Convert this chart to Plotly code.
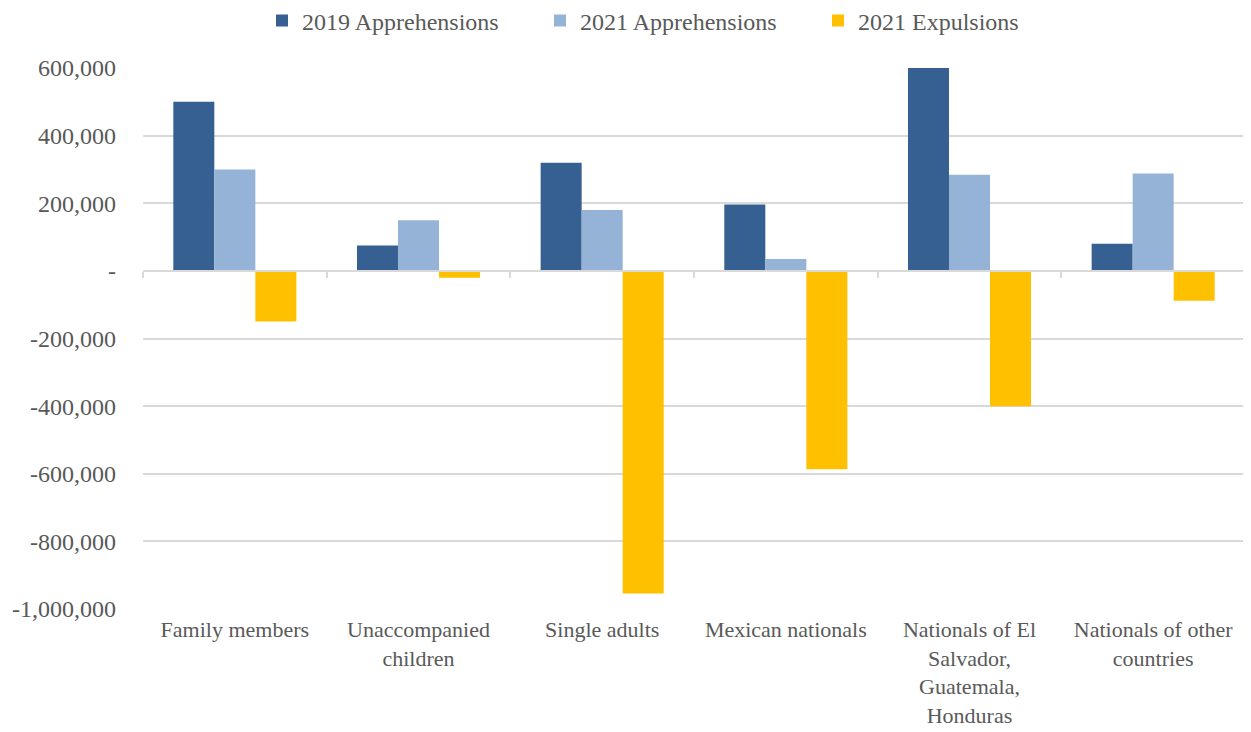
import plotly.graph_objects as go

categories = ["Family members", "Unaccompanied<br>children", "Single adults", "Mexican nationals",
              "Nationals of El<br>Salvador,<br>Guatemala,<br>Honduras", "Nationals of other<br>countries"]
apprehensions_2019 = [500000, 75000, 320000, 196000, 600000, 80000]
apprehensions_2021 = [300000, 150000, 180000, 35000, 284000, 288000]
expulsions_2021 = [-150000, -20000, -954000, -587000, -400000, -88000]
series_names = ["2019 Apprehensions", "2021 Apprehensions", "2021 Expulsions"]
colors = ["#376092", "#95B3D7", "#FFC000"]
y_ticks = [-1000000, -800000, -600000, -400000, -200000, 0, 200000, 400000, 600000]
y_ticktext = ["-" if v == 0 else f"{v:,}" for v in y_ticks]

FONT = "Liberation Serif, Times New Roman, serif"
TXT = "#595959"
FS = 24

W, H = 1243, 724  # page body has an 8px margin

fig = go.Figure()
for name, vals, c in zip(series_names, [apprehensions_2019, apprehensions_2021, expulsions_2021], colors):
    fig.add_trace(go.Bar(x=categories, y=vals, name=name, marker=dict(color=c, line=dict(width=0))))

# invisible trace carrying the category tick marks along the zero line
fig.add_trace(go.Scatter(x=categories, y=[None] * len(categories), xaxis="x2", showlegend=False,
                         hoverinfo="skip", mode="markers"))

ymin, ymax = -1000000, 600000
zero_frac = (0 - ymin) / (ymax - ymin)

fig.update_layout(
    width=W, height=H,
    margin=dict(l=135, r=6, t=60, b=123, autoexpand=False),
    paper_bgcolor="white", plot_bgcolor="white",
    barmode="group", bargap=0.33, bargroupgap=0,
    font=dict(family=FONT, size=FS, color=TXT),
    legend=dict(orientation="h", x=(262 - 8) / W, xanchor="left", xref="container",
                y=1 - 13 / H, yanchor="middle", yref="container",
                font=dict(family=FONT, size=FS, color=TXT),
                entrywidth=233, entrywidthmode="pixels", itemwidth=30, tracegroupgap=0),
    xaxis=dict(showgrid=False, showline=False, ticks="", automargin=False,
               tickfont=dict(family=FONT, size=22, color=TXT), ticklabelstandoff=5),
    xaxis2=dict(overlaying="x", matches="x", anchor="free", position=zero_frac, side="bottom",
                showline=True, linecolor="#d9d9d9", linewidth=2, showticklabels=False,
                tickson="boundaries", ticks="outside", ticklen=6, tickcolor="#d9d9d9", tickwidth=2,
                showgrid=False, zeroline=False, automargin=False),
    yaxis=dict(range=[ymin, ymax], tickvals=y_ticks, ticktext=y_ticktext, showgrid=True,
               gridcolor="#d9d9d9", gridwidth=2, zeroline=False, showline=False, ticks="",
               automargin=False, tickfont=dict(family=FONT, size=FS, color=TXT), ticklabelstandoff=26),
)

fig.write_html("out.html")
